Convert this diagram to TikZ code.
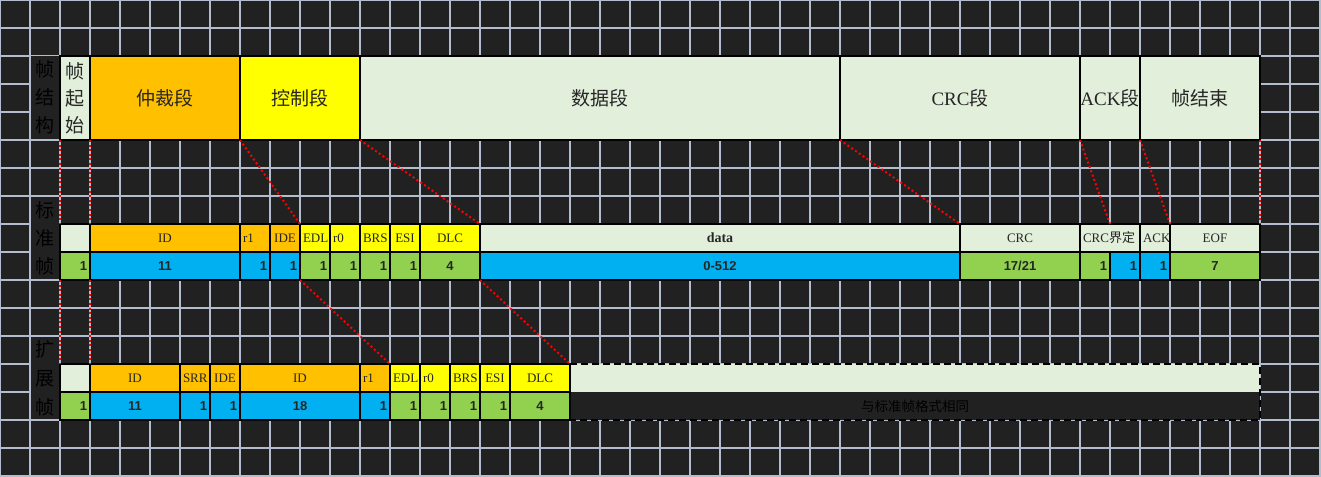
\documentclass[tikz,border=0pt]{standalone}
\usepackage{fontspec}
\setmainfont{Liberation Serif}
\newfontfamily\cjk{Noto Sans CJK SC}
\newfontfamily\numfont{Liberation Sans}
\usetikzlibrary{positioning}

\definecolor{bgcol}{HTML}{212121}
\definecolor{gridcol}{HTML}{B4BCD0}
\definecolor{lgreen}{HTML}{E2EFDA}
\definecolor{corange}{HTML}{FFC000}
\definecolor{cyellow}{HTML}{FFFF00}
\definecolor{cblue}{HTML}{00B0F0}
\definecolor{cgreen}{HTML}{92D050}

\tikzset{
    cell/.style={draw=black,line width=1.3pt,anchor=north west,outer sep=0pt,inner xsep=3pt,inner ysep=0pt,minimum height=28pt,text=black!85},
    fieldname/.style={cell,font=\fontsize{13}{15}\selectfont},
    fieldlen/.style={cell,font=\numfont\bfseries\fontsize{13}{15}\selectfont},
    segment/.style={draw=black,line width=2.4pt,anchor=north west,outer sep=0pt,inner sep=0pt,minimum height=84pt,align=center,text=black!85,font=\cjk\fontsize{19}{27}\selectfont},
    sidelabel/.style={fill=bgcol,inner sep=0pt,minimum width=28pt,minimum height=82pt,align=center,text=black,font=\cjk\fontsize{19}{28}\selectfont},
    gridline/.style={draw=gridcol,line width=1.2pt},
    reddots/.style={draw=red,line width=2pt,dash pattern=on 2pt off 2.6pt},
    outerframe/.style={draw=black,line width=2.6pt},
}

\begin{document}
\begin{tikzpicture}[x=1pt,y=-1pt]

\useasboundingbox (0,0) rectangle (1321,476);
\fill[bgcol] (0,0) rectangle (1321,476);

% sheet grid
\foreach \i in {0,...,44}
    \draw[gridline] (\i*30,0) -- (\i*30,476);
\foreach \j in {0,...,17}
    \draw[gridline] (0,\j*28) -- (1321,\j*28);

% row titles
\node[sidelabel] (lstruct) at (45,97) {帧\\结\\构};
\node[sidelabel] (lstd) at (45,238) {标\\准\\帧};
\node[sidelabel,font=\cjk\fontsize{19}{29}\selectfont] (lext) at (45,378) {扩\\展\\帧};

% frame structure
\foreach \n/\x/\w/\c/\t in {tsof/60/30/lgreen/{帧\\起\\始},
        tarb/90/150/corange/仲裁段, tctl/240/120/cyellow/控制段,
        tdata/360/480/lgreen/数据段, tcrc/840/240/lgreen/{{\rmfamily CRC}段},
        tack/1080/60/lgreen/{{\rmfamily ACK}段}, teof/1140/120/lgreen/帧结束}
    \node[segment,fill=\c,minimum width=\w] (\n) at (\x,56) {\t};

% standard frame
\foreach \n/\x/\w/\c/\a/\t in {s0/60/30/lgreen/center/{}, sid/90/150/corange/center/ID,
        sr1/240/30/corange/left/r1, side/270/30/corange/center/IDE,
        sedl/300/30/cyellow/center/EDL, sr0/330/30/cyellow/left/r0,
        sbrs/360/30/cyellow/center/BRS, sesi/390/30/cyellow/center/ESI,
        sdlc/420/60/cyellow/center/DLC, sdata/480/480/lgreen/center/{\bfseries\fontsize{14}{16}\selectfont data},
        scrc/960/120/lgreen/center/CRC, scrcd/1080/60/lgreen/left/{CRC{\cjk 界定}},
        sack/1140/30/lgreen/left/ACK, seof/1170/90/lgreen/center/EOF}
    \node[fieldname,fill=\c,minimum width=\w,text width=\w-6,align=\a] (\n) at (\x,224) {\t};

\foreach \n/\x/\w/\c/\a/\t in {n0/60/30/cgreen/right/1, nid/90/150/cblue/center/11,
        nr1/240/30/cblue/right/1, nide/270/30/cblue/right/1,
        nedl/300/30/cgreen/right/1, nr0/330/30/cgreen/right/1,
        nbrs/360/30/cgreen/right/1, nesi/390/30/cgreen/right/1,
        ndlc/420/60/cgreen/center/4, ndata/480/480/cblue/center/0-512,
        ncrc/960/120/cgreen/center/{17/21}, ncd1/1080/30/cgreen/right/1,
        ncd2/1110/30/cblue/right/1, nack/1140/30/cblue/right/1,
        neof/1170/90/cgreen/center/7}
    \node[fieldlen,fill=\c,minimum width=\w,text width=\w-6,align=\a] (\n) at (\x,252) {\t};

\draw[outerframe] (s0.north west) rectangle (neof.south east);

% extended frame
\foreach \n/\x/\w/\c/\a/\t in {e0/60/30/lgreen/center/{}, eid/90/90/corange/center/ID,
        esrr/180/30/corange/center/SRR, eide/210/30/corange/center/IDE,
        eidx/240/120/corange/center/ID, er1/360/30/corange/left/r1,
        eedl/390/30/cyellow/center/EDL, er0/420/30/cyellow/left/r0,
        ebrs/450/30/cyellow/center/BRS, eesi/480/30/cyellow/center/ESI,
        edlc/510/60/cyellow/center/DLC}
    \node[fieldname,fill=\c,minimum width=\w,text width=\w-6,align=\a] (\n) at (\x,364) {\t};

\foreach \n/\x/\w/\c/\a/\t in {m0/60/30/cgreen/right/1, mid/90/90/cblue/center/11,
        msrr/180/30/cblue/right/1, mide/210/30/cblue/right/1,
        midx/240/120/cblue/center/18, mr1/360/30/cblue/right/1,
        medl/390/30/cgreen/right/1, mr0/420/30/cgreen/right/1,
        mbrs/450/30/cgreen/right/1, mesi/480/30/cgreen/right/1,
        mdlc/510/60/cgreen/center/4}
    \node[fieldlen,fill=\c,minimum width=\w,text width=\w-6,align=\a] (\n) at (\x,392) {\t};

\node[cell,draw=none,fill=lgreen,minimum width=690] (erest) at (570,364) {};
\node[cell,draw=none,fill=bgcol,minimum width=690,text=black,font=\cjk\fontsize{13.5}{15}\selectfont] (mrest) at (570,392) {与标准帧格式相同};

\draw[outerframe] (e0.north west) rectangle (mdlc.south east);
\draw[outerframe,dash pattern=on 7pt off 4pt] (erest.north west) rectangle (mrest.south east);

% red guide lines
\draw[reddots] (tsof.south west) -- (s0.north west);
\draw[reddots] (tsof.south east) -- (s0.north east);
\draw[reddots] (tarb.south east) -- (side.north east);
\draw[reddots] (tctl.south east) -- (sdlc.north east);
\draw[reddots] (tdata.south east) -- (sdata.north east);
\draw[reddots] (tcrc.south east) -- (scrcd.north);
\draw[reddots] (tack.south east) -- (sack.north east);
\draw[reddots] (teof.south east) -- (seof.north east);

\draw[reddots] (n0.south west) -- (e0.north west);
\draw[reddots] (n0.south east) -- (e0.north east);
\draw[reddots] (nide.south east) -- (er1.north east);
\draw[reddots] (ndlc.south east) -- (edlc.north east);

\end{tikzpicture}
\end{document}
